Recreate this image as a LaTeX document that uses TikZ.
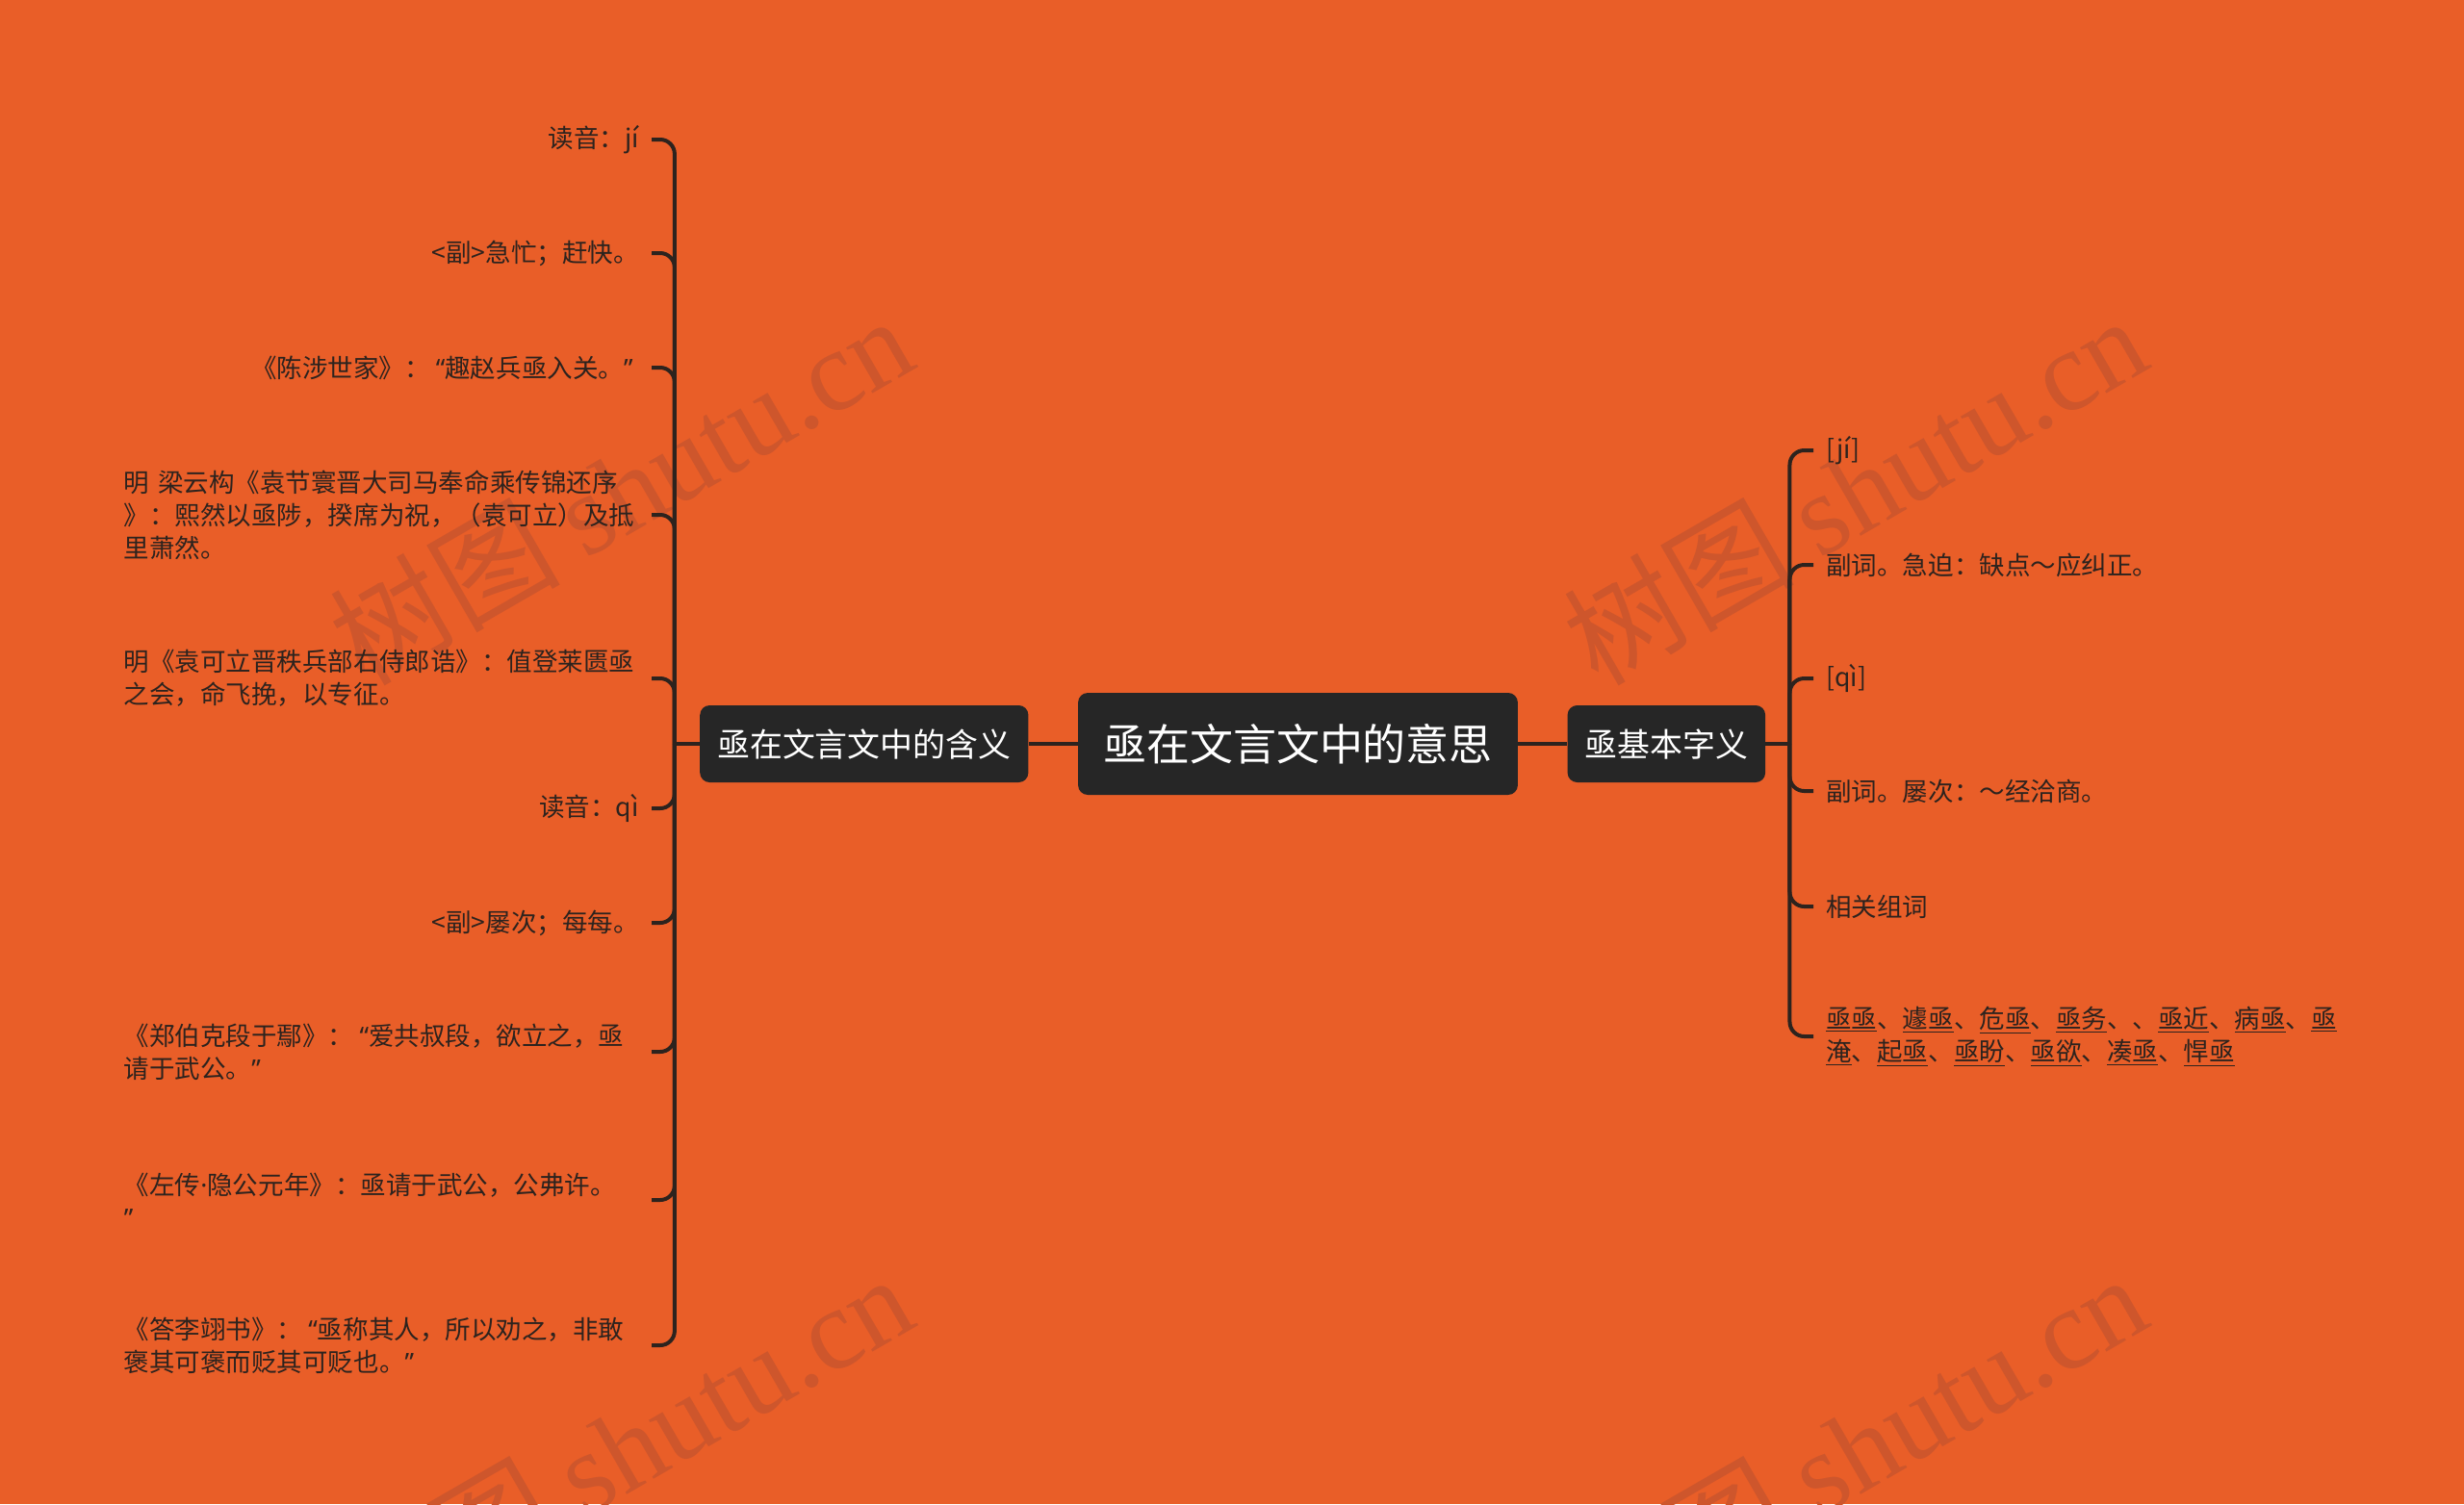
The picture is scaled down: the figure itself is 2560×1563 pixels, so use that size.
\documentclass[tikz,border=0pt]{standalone}
\usepackage{fontspec}
\setmainfont{Noto Sans CJK SC}
\newfontfamily\wmfont{Liberation Serif}
\newfontfamily\latinf{Noto Sans}
\newcommand{\qopen}{\kern0.12cm{\latinf “}}
\newcommand{\qclose}{{\latinf ”}\kern0.12cm}
\newcommand{\qdot}{{\latinf ·}}
\usepackage{xcolor}
\usepackage{tikz}
\usetikzlibrary{positioning}

\definecolor{bgorange}{RGB}{233,94,40}
\definecolor{boxdark}{RGB}{38,38,38}
\definecolor{linkc}{RGB}{45,35,30}
\definecolor{wmark}{RGB}{206,86,44}

\begin{document}
\begin{tikzpicture}[
    x=0.02cm, y=-0.02cm,
    root/.style={fill=boxdark, rounded corners=0.2cm, text=white, minimum height=2.12cm, inner xsep=0.52cm, font=\fontsize{25.6}{30}\selectfont},
    topic/.style={fill=boxdark, rounded corners=0.2cm, text=white, minimum height=1.6cm, inner xsep=0.36cm, font=\fontsize{19.3}{23}\selectfont},
    leaf/.style={text=linkc, align=left, inner xsep=0.26cm, inner ysep=0.1cm, font=\fontsize{15.1}{19.4}\selectfont},
    leafl/.style={leaf, anchor=east},
    leafw/.style={leafl, text width=10.7cm},
    leafr/.style={leaf, anchor=west},
    link/.style={draw=linkc, line width=0.08cm, rounded corners=0.3cm},
    wmtext/.style={text=wmark, rotate=30, font=\fontsize{68}{80}\selectfont}
]
    \useasboundingbox (0,0) rectangle (2560,1563);
    \fill[bgorange] (0,0) rectangle (2560,1563);
    \foreach \wx/\wy/\wn in {645/508/a, 1927/508/b, 645/1504/c, 1927/1504/d}
        \node[wmtext] (wm\wn) at (\wx,\wy) {树图 {\wmfont shutu.cn}};

    \node[root] (root) at (1348.5,773) {亟在文言文中的意思};
    \node[topic, left=1.02cm of root] (hanyi) {亟在文言文中的含义};
    \node[topic, right=1.02cm of root] (ziyi) {亟基本字义};
    \coordinate[left=0.52cm of hanyi] (lfork);
    \coordinate[right=0.5cm of ziyi] (rfork);

    \node[leafl] (duyin1) at (677,145) {读音：jí};
    \node[leafl] (jimang) at (677,263) {<副>急忙；赶快。};
    \node[leafl] (chenshe) at (677,382) {《陈涉世家》：\qopen 趣赵兵亟入关。\qclose};
    \node[leafw] (liangyun) at (677,535) {明 梁云构《袁节寰晋大司马奉命乘传锦还序\\》：熙然以亟陟，揆席为祝，（袁可立）及抵\\里萧然。};
    \node[leafw] (yuankeli) at (677,705) {明《袁可立晋秩兵部右侍郎诰》：值登莱匮亟\\之会，命飞挽，以专征。};
    \node[leafl] (duyin2) at (677,840) {读音：qì};
    \node[leafl] (lvci) at (677,959) {<副>屡次；每每。};
    \node[leafw] (zhengbo) at (677,1093) {《郑伯克段于鄢》：\qopen 爱共叔段，欲立之，亟\\请于武公。\qclose};
    \node[leafw] (zuozhuan) at (677,1247) {《左传\qdot 隐公元年》：亟请于武公，公弗许。\\\qclose};
    \node[leafw] (dali) at (677,1398) {《答李翊书》：\qopen 亟称其人，所以劝之，非敢\\褒其可褒而贬其可贬也。\qclose};

    \node[leafr] (pin1) at (1884,468) {[jí]};
    \node[leafr] (jipo) at (1884,587) {副词。急迫：缺点～应纠正。};
    \node[leafr] (pin2) at (1884,705) {[qì]};
    \node[leafr] (qici) at (1884,822) {副词。屡次：～经洽商。};
    \node[leafr] (zuci) at (1884,942) {相关组词};
    \node[leafr] (cilist) at (1884,1077) {\underline{亟亟}、\underline{遽亟}、\underline{危亟}、\underline{亟务}、、\underline{亟近}、\underline{病亟}、\underline{亟}\\\underline{淹}、\underline{起亟}、\underline{亟盼}、\underline{亟欲}、\underline{凑亟}、\underline{悍亟}};

    \draw[link] (root) -- (hanyi);
    \draw[link] (root) -- (ziyi);
    \draw[link] (hanyi) -- (lfork);
    \draw[link] (ziyi) -- (rfork);
    \foreach \n in {duyin1, jimang, chenshe, liangyun, yuankeli, duyin2, lvci, zhengbo, zuozhuan, dali}
        \draw[link] (lfork) |- (\n.east);
    \foreach \n in {pin1, jipo, pin2, qici, zuci, cilist}
        \draw[link] (rfork) |- (\n.west);
\end{tikzpicture}
\end{document}
